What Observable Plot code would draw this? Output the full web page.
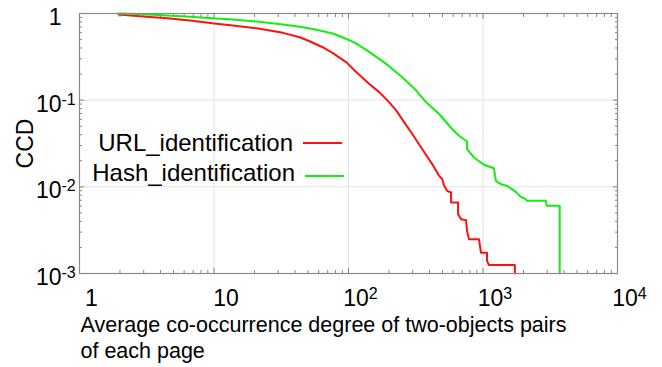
<!DOCTYPE html>
<html>
<head>
<meta charset="utf-8">
<script src="https://cdn.jsdelivr.net/npm/d3@7"></script>
<script src="https://cdn.jsdelivr.net/npm/@observablehq/plot@0.6"></script>
<style>
  html, body { margin: 0; padding: 0; background: #fff; }
  #wrap { position: relative; width: 662px; height: 367px; font-family: "Liberation Sans", Arial, sans-serif; }
  .leg { position: absolute; font-size: 24px; color: #000; white-space: nowrap; text-align: right; }
  .legline { position: absolute; height: 0; border-top: 2px solid; }
</style>
</head>
<body>
<div id="wrap"></div>
<script>
// ---- data ----
const seriesNames = ["URL_identification", "Hash_identification"];
const seriesColors = ["#ff1010", "#10f010"];

const xTickValues = [1, 10, 100, 1000, 10000];
const xTickLabels = ["1", "10", "10^2", "10^3", "10^4"];
const yTickValues = [0.001, 0.01, 0.1, 1];
const yTickLabels = ["10^-3", "10^-2", "10^-1", "1"];
const yAxisLabel = "CCD";
const xAxisLabel = "Average co-occurrence degree of two-objects pairs\nof each page";

const urlX = [1.95, 2.98, 4.48, 6.64, 9.66, 13.8, 20.8, 32.5, 43.4, 51.4, 64.2, 76.1, 96.6, 114.6, 143, 170, 201, 227, 260, 298, 353, 419, 472, 497, 514, 541, 579, 579, 653, 653, 687, 748, 761, 787, 934, 966, 1071, 1071, 1107, 1726, 1726];
const urlY = [0.974, 0.923, 0.882, 0.830, 0.773, 0.727, 0.676, 0.598, 0.532, 0.478, 0.408, 0.351, 0.273, 0.210, 0.154, 0.123, 0.0944, 0.0757, 0.0554, 0.0407, 0.0273, 0.0183, 0.0134, 0.0123, 0.0103, 0.0090, 0.0086, 0.00659, 0.00659, 0.00483, 0.00423, 0.00412, 0.00310, 0.00248, 0.00248, 0.00174, 0.00174, 0.00140, 0.00125, 0.00125, 0.001];

const hashX = [1.95, 2.98, 4.48, 6.64, 9.66, 13.8, 20.8, 32.5, 43.4, 57.9, 76.1, 90.3, 111, 138, 191, 251, 319, 378, 472, 589, 664, 761, 761, 858, 1016, 1205, 1247, 1359, 1507, 1754, 1910, 2082, 2118, 2929, 2980, 3717, 3717];
const hashY = [1.0, 0.981, 0.948, 0.916, 0.882, 0.852, 0.808, 0.746, 0.702, 0.648, 0.587, 0.532, 0.462, 0.373, 0.262, 0.184, 0.129, 0.0944, 0.0692, 0.0465, 0.0389, 0.0334, 0.0273, 0.0218, 0.0180, 0.0164, 0.0117, 0.0107, 0.0103, 0.00875, 0.00766, 0.00721, 0.00689, 0.00689, 0.00603, 0.00603, 0.001];

// ---- derived ----
const rows = [
  ...urlX.map((x, i) => ({series: seriesNames[0], x, y: urlY[i]})),
  ...hashX.map((x, i) => ({series: seriesNames[1], x, y: hashY[i]}))
];
const minorX = [];
for (const d of [1, 10, 100, 1000]) for (let k = 2; k <= 9; k++) minorX.push(d * k);
const minorY = [];
for (const d of [0.001, 0.01, 0.1]) for (let k = 2; k <= 9; k++) minorY.push(d * k);

const grid = {stroke: "#e2e2e2", strokeOpacity: 1, strokeWidth: 1};
const tickStyle = {tickFormat: () => "", label: null, stroke: "#888"};

const chart = Plot.plot({
  width: 662,
  height: 367,
  marginLeft: 79,
  marginRight: 45,
  marginTop: 13,
  marginBottom: 94,
  style: {fontFamily: '"Liberation Sans", Arial, sans-serif', fontSize: "21px", color: "#000", background: "#fff"},
  x: {type: "log", domain: [1, 10000]},
  y: {type: "log", domain: [0.001, 1]},
  marks: [
    Plot.gridX(xTickValues.slice(1, -1), grid),
    Plot.gridY(yTickValues.slice(1, -1), grid),
    // inner ticks on all four sides
    Plot.axisX(minorX, {anchor: "bottom", tickSize: -3, ...tickStyle}),
    Plot.axisX(minorX, {anchor: "top", tickSize: -3, ...tickStyle}),
    Plot.axisX(xTickValues, {anchor: "bottom", tickSize: -5, ...tickStyle}),
    Plot.axisX(xTickValues, {anchor: "top", tickSize: -5, ...tickStyle}),
    Plot.axisY(minorY, {anchor: "left", tickSize: -3, ...tickStyle}),
    Plot.axisY(minorY, {anchor: "right", tickSize: -3, ...tickStyle}),
    Plot.axisY(yTickValues, {anchor: "left", tickSize: -5, ...tickStyle}),
    Plot.axisY(yTickValues, {anchor: "right", tickSize: -5, ...tickStyle}),
    // tick labels
    Plot.axisX(xTickValues, {anchor: "bottom", tickSize: 0, tickPadding: 16, dx: 12, fontSize: 23,
      tickFormat: d => xTickLabels[xTickValues.indexOf(d)], label: null}),
    Plot.axisY(yTickValues, {anchor: "left", tickSize: 0, tickPadding: 18, dy: 4, fontSize: 23,
      tickFormat: d => yTickLabels[yTickValues.indexOf(d)], label: null}),
    // series
    Plot.line(rows.filter(d => d.series === seriesNames[0]), {x: "x", y: "y", stroke: seriesColors[0], strokeWidth: 2}),
    Plot.line(rows.filter(d => d.series === seriesNames[1]), {x: "x", y: "y", stroke: seriesColors[1], strokeWidth: 2}),
    Plot.frame({stroke: "#8a8a8a", strokeWidth: 1.2}),
    // axis titles
    Plot.text([yAxisLabel], {frameAnchor: "left", rotate: -90, dx: -54, fontSize: 23, textAnchor: "middle", lineAnchor: "middle"}),
    Plot.text([xAxisLabel], {frameAnchor: "bottom-left", dx: 1, dy: 40, fontSize: 21.5, textAnchor: "start", lineAnchor: "top", lineHeight: 1.22})
  ]
});

const wrap = document.getElementById("wrap");
wrap.appendChild(chart);

// superscripts for power-of-ten labels
chart.querySelectorAll("text").forEach(t => {
  const s = t.textContent;
  const m = /^10\^(-?\d+)$/.exec(s);
  if (!m) return;
  t.textContent = "10";
  const sup = document.createElementNS("http://www.w3.org/2000/svg", "tspan");
  sup.setAttribute("dy", "-7");
  sup.setAttribute("font-size", "16");
  sup.textContent = m[1];
  t.appendChild(sup);
  // y labels: keep the "10" right-aligned, let the exponent overhang
  let g = t.parentNode, isY = false;
  while (g && g !== chart) {
    const al = g.getAttribute && g.getAttribute("aria-label");
    if (al && al.indexOf("y-axis") >= 0) { isY = true; break; }
    g = g.parentNode;
  }
  if (isY) {
    const w = sup.getComputedTextLength() || 0;
    const tr = t.getAttribute("transform") || "";
    t.setAttribute("transform", tr + " translate(" + w + ",0)");
  }
});

// legend
const legendRows = [
  {name: seriesNames[0], color: seriesColors[0], textRight: 293, textY: 143, x1: 303, x2: 342, lineY: 143},
  {name: seriesNames[1], color: seriesColors[1], textRight: 295, textY: 173, x1: 305, x2: 344, lineY: 176}
];
legendRows.forEach(r => {
  const t = document.createElement("div");
  t.className = "leg";
  t.textContent = r.name;
  t.style.right = (662 - r.textRight) + "px";
  t.style.top = (r.textY - 14) + "px";
  t.style.lineHeight = "28px";
  wrap.appendChild(t);
  const l = document.createElement("div");
  l.className = "legline";
  l.style.left = r.x1 + "px";
  l.style.width = (r.x2 - r.x1) + "px";
  l.style.top = (r.lineY - 1) + "px";
  l.style.borderTopColor = r.color;
  wrap.appendChild(l);
});
</script>
</body>
</html>
